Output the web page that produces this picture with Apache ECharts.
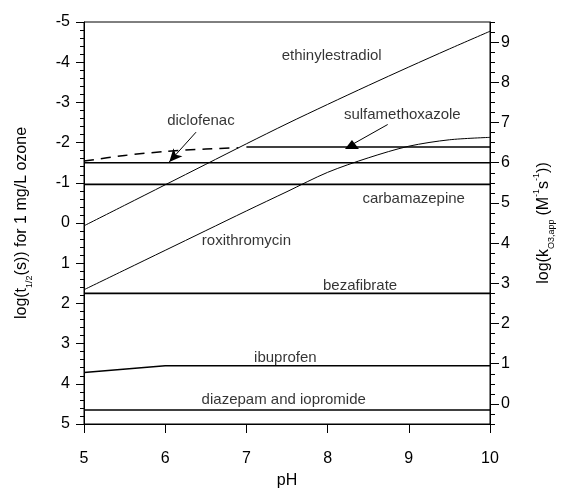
<!DOCTYPE html>
<html>
<head>
<meta charset="utf-8">
<script src="https://cdn.jsdelivr.net/npm/echarts@6/dist/echarts.min.js"></script>
<style>
  html, body { margin: 0; padding: 0; background: #fff; }
  #chart { width: 562px; height: 490px; }
</style>
</head>
<body>
<div id="chart"></div>
<script>
// pH grid and log k(O3,app) values (right axis)
const phFine = [5, 5.5, 6, 6.5, 7, 7.5, 8, 8.5, 9, 9.5, 10];
const ethinylestradiol = [4.43, 4.94, 5.45, 5.96, 6.47, 6.97, 7.45, 7.92, 8.38, 8.83, 9.27];
const roxithromycin = [2.84, 3.33, 3.82, 4.31, 4.80, 5.28, 5.76, 6.12, 6.41, 6.57, 6.63];
const sulfaLowPh = [5, 5.5, 6, 6.5, 6.9];
const sulfaLow = [6.04, 6.18, 6.28, 6.34, 6.37];
const sulfaHighPh = [7, 10];
const sulfaHigh = [6.39, 6.39];
const ibuprofenPh = [5, 6, 10];
const ibuprofen = [0.78, 0.95, 0.95];
const flatPh = [5, 10];
const diclofenac = [6.0, 6.0];
const carbamazepine = [5.46, 5.46];
const bezafibrate = [2.75, 2.75];
const diazepam = [-0.15, -0.15];

const xTicks = [5, 6, 7, 8, 9, 10];
const rightTicks = [0, 1, 2, 3, 4, 5, 6, 7, 8, 9];

// label positions [pH, log k]
const labels = [
    ['ethinylestradiol', 8.05, 8.67],
    ['diclofenac', 6.44, 7.03],
    ['sulfamethoxazole', 8.92, 7.2],
    ['carbamazepine', 9.06, 5.09],
    ['roxithromycin', 7.0, 4.06],
    ['bezafibrate', 8.4, 2.94],
    ['ibuprofen', 7.48, 1.14],
    ['diazepam and iopromide', 7.46, 0.11]
];

const FONT = 'Liberation Sans, Arial, sans-serif';

function pairs(xs, ys) {
    return xs.map((x, i) => [x, ys[i]]);
}

function lineSeries(name, xs, ys, width, extra) {
    return Object.assign({
        name: name,
        type: 'line',
        yAxisIndex: 1,
        data: pairs(xs, ys),
        showSymbol: false,
        symbol: 'none',
        silent: true,
        lineStyle: { color: '#000', width: width }
    }, extra || {});
}

const chart = echarts.init(document.getElementById('chart'));
chart.setOption({
    animation: false,
    backgroundColor: '#fff',
    grid: { left: 84, right: 72, top: 22, bottom: 66, show: true, borderColor: '#000', borderWidth: 1,
        containLabel: false, outerBoundsMode: 'none' },
    xAxis: {
        type: 'value', min: 5, max: 10, interval: 1,
        name: 'pH', nameLocation: 'middle', nameGap: 49,
        nameTextStyle: { fontFamily: FONT, fontSize: 16, color: '#000' },
        axisLine: { onZero: false, lineStyle: { color: '#000' } },
        axisTick: { length: 9, lineStyle: { color: '#000' } },
        axisLabel: { fontFamily: FONT, fontSize: 16, color: '#000', margin: 27,
            customValues: xTicks },
        splitLine: { show: false }
    },
    yAxis: [
        {
            // log t1/2 (left, inverted)
            type: 'value', position: 'left', inverse: true,
            min: -5, max: 5, interval: 1,
            name: '{a|log(t}{s|1/2}{a|(s)) for 1 mg/L ozone}',
            nameLocation: 'middle', nameGap: 50, nameRotate: 90,
            nameTextStyle: { fontFamily: FONT, fontSize: 16, color: '#000',
                rich: {
                    a: { fontFamily: FONT, fontSize: 16, color: '#000', lineHeight: 24 },
                    s: { fontFamily: FONT, fontSize: 9, color: '#000', lineHeight: 11, verticalAlign: 'bottom' }
                } },
            axisLine: { show: true, onZero: false, lineStyle: { color: '#000' } },
            axisTick: { length: 8, lineStyle: { color: '#000' } },
            minorTick: { show: true, splitNumber: 5, length: 4, lineStyle: { color: '#000' } },
            axisLabel: { fontFamily: FONT, fontSize: 16, color: '#000', margin: 14 },
            splitLine: { show: false }
        },
        {
            // log k (right), minor ticks every 0.25
            type: 'value', position: 'right',
            min: -0.5, max: 9.5, interval: 0.25,
            axisLine: { show: true, onZero: false, lineStyle: { color: '#000' } },
            axisTick: { length: 5, lineStyle: { color: '#000' } },
            axisLabel: { show: false },
            splitLine: { show: false }
        },
        {
            // log k (right), labelled integer ticks
            type: 'value', position: 'right',
            min: -0.5, max: 9.5, interval: 0.5,
            name: '{a|log(k}{s|O3,app}{a|(M}{p|-1}{a|s}{p|-1}{a|))}',
            nameLocation: 'middle', nameGap: 42, nameRotate: 90,
            nameTextStyle: { fontFamily: FONT, fontSize: 16, color: '#000',
                rich: {
                    a: { fontFamily: FONT, fontSize: 16, color: '#000', lineHeight: 24 },
                    s: { fontFamily: FONT, fontSize: 9, color: '#000', lineHeight: 11, verticalAlign: 'bottom', padding: [0, 4, 0, 0] },
                    p: { fontFamily: FONT, fontSize: 9, color: '#000', lineHeight: 11, verticalAlign: 'top' }
                } },
            axisLine: { show: false, onZero: false },
            axisTick: { length: 9, customValues: rightTicks, lineStyle: { color: '#000' } },
            axisLabel: { fontFamily: FONT, fontSize: 16, color: '#000', margin: 11,
                customValues: rightTicks },
            splitLine: { show: false }
        }
    ],
    series: [
        lineSeries('ethinylestradiol', phFine, ethinylestradiol, 1, { smooth: 0.3 }),
        lineSeries('roxithromycin', phFine, roxithromycin, 1, { smooth: 0.3 }),
        lineSeries('sulfamethoxazole low pH', sulfaLowPh, sulfaLow, 1.5,
            { smooth: 0.3, lineStyle: { color: '#000', width: 1.5, type: [10, 7] } }),
        lineSeries('sulfamethoxazole', sulfaHighPh, sulfaHigh, 1.6, {
            markLine: {
                silent: true, symbol: ['none', 'triangle'], symbolSize: [14, 9],
                lineStyle: { color: '#000', width: 1, type: 'solid' },
                label: { show: false },
                data: [[{ coord: [8.74, 6.95] }, { coord: [8.3, 6.45], symbolRotate: 0 }]]
            }
        }),
        lineSeries('diclofenac', flatPh, diclofenac, 1.6, {
            markLine: {
                silent: true, symbol: ['none', 'arrow'], symbolSize: [9, 13],
                lineStyle: { color: '#000', width: 1, type: 'solid' },
                label: { show: false },
                data: [[{ coord: [6.38, 6.76] }, { coord: [6.05, 6.02] }]]
            }
        }),
        lineSeries('carbamazepine', flatPh, carbamazepine, 1.6),
        lineSeries('bezafibrate', flatPh, bezafibrate, 1.6),
        lineSeries('ibuprofen', ibuprofenPh, ibuprofen, 1.4),
        lineSeries('diazepam and iopromide', flatPh, diazepam, 1.6),
        {
            name: 'labels', type: 'scatter', yAxisIndex: 1, symbolSize: 0, silent: true,
            data: labels.map(l => ({ name: l[0], value: [l[1], l[2]] })),
            label: { show: true, position: 'inside', formatter: '{b}',
                fontFamily: FONT, fontSize: 15, color: '#000' }
        }
    ]
});
</script>
</body>
</html>
